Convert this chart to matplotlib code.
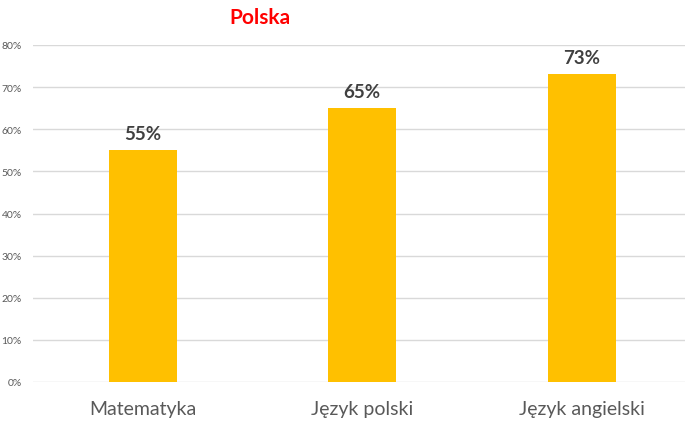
import matplotlib.pyplot as plt
from matplotlib.ticker import PercentFormatter

# data
subjects = ['Matematyka', 'Język polski', 'Język angielski']
scores = [0.55, 0.65, 0.73]
y_ticks = [0, 0.1, 0.2, 0.3, 0.4, 0.5, 0.6, 0.7, 0.8]

plt.rcParams['font.family'] = ['Lato', 'DejaVu Sans']

fig = plt.figure(figsize=(6.85, 4.31), dpi=100)
ax = fig.add_axes([33 / 685, 48 / 431, 652 / 685, 337 / 431])

x = range(len(subjects))
bars = ax.bar(x, scores, width=0.31, color='#FFC000', zorder=3)

# value labels above bars
for rect, v in zip(bars, scores):
    ax.annotate(f'{v:.0%}', (rect.get_x() + rect.get_width() / 2, v),
                xytext=(0, 6), textcoords='offset points',
                ha='center', va='bottom', fontsize=13.5, fontweight='bold',
                color='#404040')

ax.set_xlim(-0.5, 2.47)
ax.set_ylim(0, 0.8)
ax.set_yticks(y_ticks)
ax.yaxis.set_major_formatter(PercentFormatter(1.0, decimals=0))
ax.grid(axis='y', color='#d9d9d9', linewidth=1, zorder=0)

ax.set_xticks(list(x))
ax.set_xticklabels(subjects, fontsize=14, color='#595959')
ax.tick_params(axis='x', length=0, pad=13)
ax.tick_params(axis='y', length=0, labelsize=7.5, labelcolor='#595959', pad=8)

for s in ax.spines.values():
    s.set_visible(False)

fig.text(260 / 685, 1 - 18 / 431, 'Polska', ha='center', va='center',
         fontsize=15, fontweight='bold', color='#FF0000')

fig.savefig('out.png', dpi=100)
